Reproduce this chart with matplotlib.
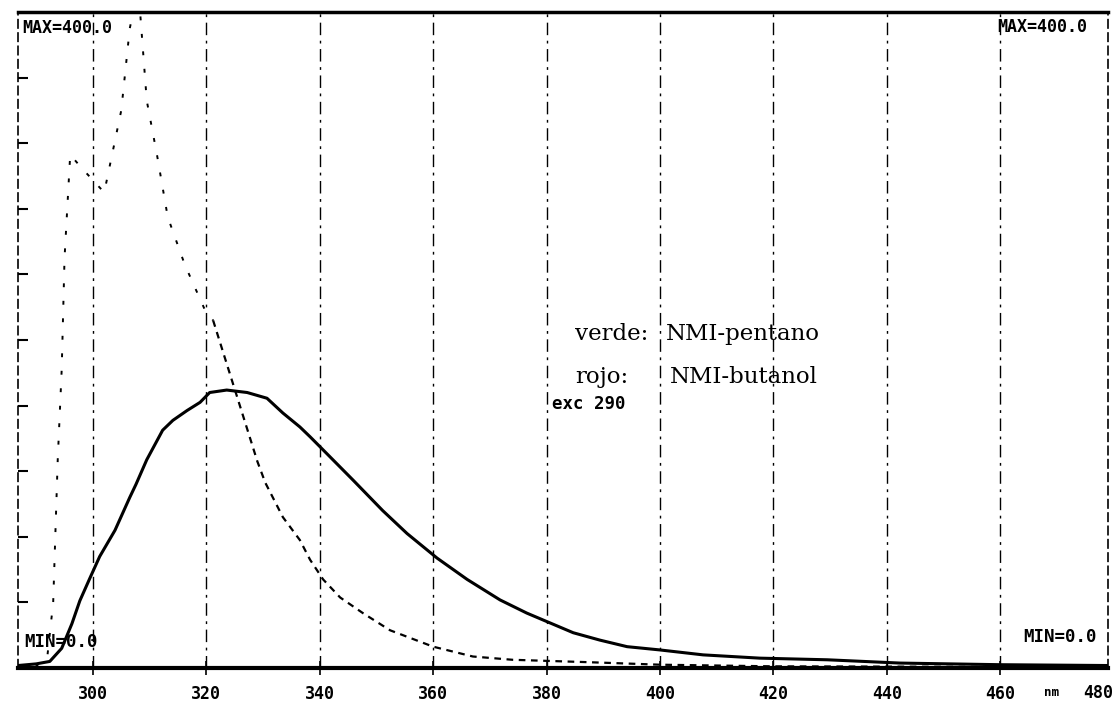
import numpy as np
import matplotlib
matplotlib.use("Agg")
import matplotlib.pyplot as plt

# emission spectra (wavelength nm, intensity 0..400)
broad_nm = [286.8, 290.0, 292.4, 294.5, 296.3, 297.7, 299.5, 301.2, 303.9, 306.5,
            307.6, 309.5, 312.3, 314.1, 316.6, 318.9, 320.6, 323.6, 327.2, 330.7,
            333.5, 336.5, 338.3, 340.6, 345.9, 351.1, 355.4, 360.7, 366.0, 371.8,
            376.5, 380.6, 384.7, 389.4, 394.2, 400.0, 407.6, 417.6, 429.5, 442.3,
            460.0, 479.0]
broad_val = [1.5, 2.5, 4, 12, 27, 41, 55, 68, 84, 104,
             112, 127, 145, 151, 157, 162, 168, 169.5, 168, 164.5,
             155.5, 147, 141, 133, 114.5, 96, 82, 67, 54, 41.5,
             33.5, 27.5, 21.5, 17, 13, 11, 8, 6, 5, 3,
             2, 1.5]

sharp_nm = [286.8, 290.0, 292.0, 293.0, 293.8, 294.5, 295.0, 296.0, 298.0, 302.0,
            305.0, 306.5, 308.0, 309.5, 311.3, 313.2, 316.2, 319.8, 321.2, 329.0,
            330.4, 333.5, 336.5, 338.3, 340.6, 343.6, 347.6, 352.4, 360.0, 367.0,
            374.0, 387.7, 400.0, 420.0, 479.0]
sharp_val = [0, 1, 8, 40, 127, 182, 250, 313, 305, 290,
             340, 390, 415, 346, 313, 275, 246, 218, 212, 126,
             113, 92, 78, 66, 54, 43, 33.5, 23, 13, 7,
             5, 3.5, 2, 1, 0.5]

xticks = [300, 320, 340, 360, 380, 400, 420, 440, 460]
xtick_labels = ["300", "320", "340", "360", "380", "400", "420", "440", "460"]
yticks = [40, 80, 120, 160, 200, 240, 280, 320, 360]

fig = plt.figure(figsize=(11.13, 7.11), dpi=100)
ax = fig.add_axes([0.0162, 0.0605, 0.9793, 0.9225])

ax.set_xlim(286.8, 479.0)
ax.set_ylim(0, 400)

mono = {"family": "DejaVu Sans Mono", "weight": "bold"}

# grid lines at each x tick
for x in xticks:
    ax.axvline(x, color="black", lw=1.0, ls=(0, (9, 4, 2, 4)), zorder=1)

# steep part of the narrow band came out faint on the plotter
split = 19
ax.plot(sharp_nm[:split], sharp_val[:split], color="black", lw=1.4,
        ls=(0, (2, 7)), zorder=3)
ax.plot(sharp_nm[split - 1:], sharp_val[split - 1:], color="black", lw=1.6,
        ls=(0, (3, 2.5)), zorder=3)
ax.plot(broad_nm, broad_val, color="black", lw=2.2, zorder=4)

# frame: heavy top/bottom, dashed sides
ax.spines["top"].set_linewidth(2.5)
ax.spines["bottom"].set_linewidth(3.0)
ax.spines["left"].set_linewidth(1.2)
ax.spines["right"].set_linewidth(1.2)
ax.spines["left"].set_linestyle((0, (5, 3)))
ax.spines["right"].set_linestyle((0, (5, 3)))

ax.set_xticks(xticks)
ax.set_xticklabels(xtick_labels, fontdict=mono, fontsize=12)
ax.tick_params(axis="x", direction="inout", length=10, width=1.2, pad=7)
ax.set_yticks(yticks)
ax.set_yticklabels([])
ax.tick_params(axis="y", direction="in", length=7, width=1.5, left=True, right=False)

xt = ax.get_xaxis_transform()
ax.text(469.0, -0.038, "nm", fontdict=mono, fontsize=9, ha="center", va="center",
        transform=xt)
ax.text(477.2, -0.038, "480", fontdict=mono, fontsize=12, ha="center", va="center",
        transform=xt)

ax.text(0.004, 0.975, "MAX=400.0", fontdict=mono, fontsize=12, ha="left", va="center",
        transform=ax.transAxes)
ax.text(0.898, 0.978, "MAX=400.0", fontdict=mono, fontsize=12, ha="left", va="center",
        transform=ax.transAxes)
ax.text(0.006, 0.04, "MIN=0.0", fontdict=mono, fontsize=12.5, ha="left", va="center",
        transform=ax.transAxes)
ax.text(0.922, 0.047, "MIN=0.0", fontdict=mono, fontsize=12.5, ha="left", va="center",
        transform=ax.transAxes)
ax.text(0.490, 0.402, "exc 290", fontdict=mono, fontsize=12.5, ha="left", va="center",
        transform=ax.transAxes)

serif = {"family": "DejaVu Serif"}
ax.text(0.511, 0.509, "verde:", fontdict=serif, fontsize=16.5, ha="left", va="center",
        transform=ax.transAxes)
ax.text(0.594, 0.509, "NMI-pentano", fontdict=serif, fontsize=16.5, ha="left", va="center",
        transform=ax.transAxes)
ax.text(0.511, 0.443, "rojo:", fontdict=serif, fontsize=16.5, ha="left", va="center",
        transform=ax.transAxes)
ax.text(0.598, 0.443, "NMI-butanol", fontdict=serif, fontsize=16.5, ha="left", va="center",
        transform=ax.transAxes)

fig.savefig("out.png", dpi=100)
